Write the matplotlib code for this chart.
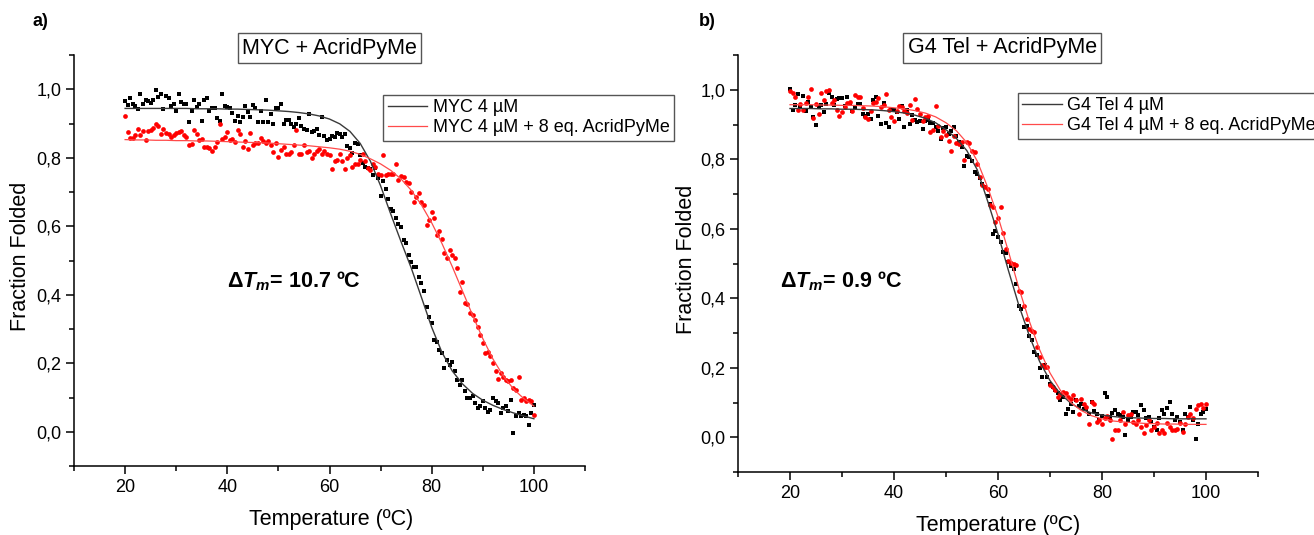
import numpy as np
import matplotlib.pyplot as plt
from matplotlib.ticker import FuncFormatter, MultipleLocator

plt.rcParams['font.family'] = ['Liberation Sans', 'DejaVu Sans']
plt.rcParams['mathtext.fontset'] = 'custom'
plt.rcParams['mathtext.rm'] = 'Liberation Sans'
plt.rcParams['mathtext.it'] = 'Liberation Sans:italic'
plt.rcParams['mathtext.bf'] = 'Liberation Sans:bold'
plt.rcParams['mathtext.bfit'] = 'Liberation Sans:italic:bold'

# temperature grid of the melting points (0.5 ºC steps) and of the fits
temp = np.arange(20, 100.25, 0.5)
fit_temp = np.arange(20, 101, 2)

# a) MYC
myc_free = [
    .965, .955, .975, .958, .951, .941, .985, .958, .970, .965,
    .961, .968, .998, .978, .985, .941, .980, .975, .951, .958,
    .937, .985, .962, .958, .958, .905, .937, .968, .947, .958,
    .908, .968, .975, .937, .944, .944, .915, .907, .985, .951,
    .948, .944, .931, .907, .922, .905, .920, .951, .934, .920,
    .953, .944, .905, .937, .903, .970, .903, .929, .900, .944,
    .944, .958, .900, .909, .909, .900, .890, .900, .917, .893,
    .885, .880, .927, .875, .879, .884, .866, .919, .864, .853,
    .856, .863, .861, .873, .868, .860, .870, .834, .829, .815,
    .844, .841, .807, .786, .773, .771, .766, .749, .771, .742,
    .688, .732, .710, .679, .650, .645, .625, .608, .598, .560,
    .550, .515, .496, .482, .482, .452, .433, .410, .365, .335,
    .317, .268, .263, .240, .230, .186, .210, .195, .205, .176,
    .152, .137, .152, .120, .098, .098, .103, .085, .069, .074,
    .089, .070, .059, .064, .098, .089, .084, .055, .069, .074,
    .060, .094, -.004, .045, .055, .045, .050, .045, .020, .055,
    .077]
myc_ligand = [
    .922, .874, .859, .859, .866, .884, .866, .877, .853, .877,
    .880, .887, .898, .893, .869, .885, .871, .869, .860, .866,
    .871, .875, .878, .866, .860, .836, .840, .880, .869, .851,
    .856, .830, .830, .829, .820, .832, .846, .898, .856, .860,
    .875, .851, .854, .846, .882, .869, .830, .849, .827, .872,
    .837, .843, .842, .857, .848, .843, .849, .837, .817, .843,
    .801, .824, .832, .812, .810, .817, .837, .882, .810, .810,
    .837, .817, .820, .800, .810, .820, .827, .810, .820, .810,
    .808, .766, .791, .793, .812, .790, .768, .800, .808, .773,
    .781, .783, .793, .812, .790, .771, .764, .781, .773, .754,
    .749, .808, .749, .754, .752, .754, .781, .735, .748, .744,
    .730, .725, .700, .671, .686, .696, .671, .662, .603, .618,
    .642, .623, .574, .585, .562, .521, .506, .530, .516, .506,
    .477, .409, .438, .375, .373, .346, .341, .326, .307, .282,
    .258, .229, .234, .220, .200, .176, .154, .171, .161, .150,
    .147, .152, .127, .122, .161, .093, .098, .089, .093, .089,
    .050]
myc_free_fit = [
    .944, .944, .944, .944, .944, .944, .944, .943, .943, .943,
    .942, .942, .941, .940, .939, .937, .935, .932, .928, .922,
    .913, .899, .877, .842, .790, .718, .635, .555, .478, .392,
    .305, .232, .178, .140, .112, .092, .077, .065, .055, .046,
    .038]
myc_ligand_fit = [
    .853, .852, .852, .851, .851, .850, .850, .849, .849, .848,
    .847, .846, .845, .844, .843, .841, .839, .837, .835, .832,
    .829, .825, .819, .810, .797, .782, .763, .738, .705, .662,
    .610, .550, .483, .412, .340, .272, .212, .163, .125, .097,
    .075]

# b) G4 Tel
tel_free = [
    1.002, .941, .955, .987, .949, .983, .940, .966, .951, .922,
    .899, .949, .957, .935, .959, .992, .980, .957, .973, .976,
    .976, .954, .978, .959, .938, .951, .959, .959, .930, .925,
    .930, .916, .970, .978, .925, .901, .961, .903, .892, .941,
    .941, .935, .916, .954, .892, .941, .901, .928, .913, .906,
    .911, .887, .911, .913, .903, .903, .894, .882, .858, .890,
    .892, .874, .882, .894, .868, .849, .834, .782, .810, .806,
    .794, .762, .758, .746, .729, .719, .695, .670, .585, .593,
    .576, .561, .532, .530, .504, .494, .484, .440, .379, .370,
    .317, .321, .290, .279, .245, .236, .200, .173, .207, .173,
    .154, .145, .135, .126, .106, .116, .068, .082, .097, .073,
    .106, .090, .097, .082, .080, .068, .101, .075, .068, .049,
    .060, .126, .116, .058, .070, .078, .068, .063, .058, .006,
    .050, .058, .073, .073, .065, .092, .078, .054, .058, .044,
    .030, .020, .055, .078, .068, .085, .101, .068, .049, .058,
    .044, .020, .068, .058, .087, .050, -.004, .039, .068, .073,
    .080]
tel_ligand = [
    .995, .992, .980, .941, .959, .941, .961, .978, 1.002, .919,
    .959, .930, .992, .970, .997, .999, .961, .970, .941, .925,
    .935, .949, .961, .966, .938, .986, .980, .978, .947, .922,
    .916, .940, .961, .966, .976, .949, .955, .989, .941, .922,
    .909, .940, .954, .949, .940, .932, .957, .913, .973, .944,
    .930, .909, .922, .925, .877, .884, .954, .897, .865, .882,
    .871, .853, .825, .868, .846, .844, .849, .798, .849, .846,
    .823, .820, .786, .748, .727, .719, .715, .667, .662, .619,
    .631, .662, .587, .542, .508, .501, .499, .497, .422, .417,
    .379, .340, .312, .307, .303, .260, .231, .207, .202, .202,
    .149, .145, .135, .116, .125, .130, .126, .116, .110, .121,
    .106, .068, .111, .097, .087, .039, .101, .097, .044, .049,
    .039, .054, .060, .049, -.004, .020, .022, .050, .073, .039,
    .063, .068, .045, .039, .049, .030, .011, .035, .049, .020,
    .030, .040, .011, .020, .011, .040, .030, .020, .020, .025,
    .040, .015, .039, .058, .068, .055, .082, .092, .095, .085,
    .097]
tel_free_fit = [
    .946, .946, .946, .945, .945, .944, .944, .943, .942, .940,
    .937, .933, .927, .918, .905, .885, .860, .825, .770, .680,
    .585, .480, .380, .293, .218, .163, .125, .098, .080, .070,
    .064, .060, .057, .056, .055, .054, .054, .053, .053, .053,
    .053]
tel_ligand_fit = [
    .957, .957, .957, .956, .956, .955, .955, .954, .953, .951,
    .948, .945, .940, .933, .922, .905, .882, .848, .795, .720,
    .635, .535, .430, .335, .252, .185, .135, .100, .077, .062,
    .053, .047, .044, .042, .040, .039, .038, .038, .037, .037,
    .037]


def comma(v, pos):
    return f'{v:.1f}'.replace('.', ',')


def draw_panel(ax, free, ligand, free_fit, ligand_fit, title, labels, dtm,
               leg_anchor, title_x, dtm_xy):
    ax.plot(temp, free, 's', ms=3.2, mew=0, color='black', zorder=2)
    ax.plot(temp, ligand, 'o', ms=3.4, mew=0, color='#ff0000', zorder=2)
    l1, = ax.plot(fit_temp, free_fit, '-', lw=1.0, color='#3a3a3a', zorder=3)
    l2, = ax.plot(fit_temp, ligand_fit, '-', lw=0.9, color='#ff4a4a', zorder=3)

    ax.set_xlim(10, 110)
    ax.set_ylim(-0.1, 1.1)
    ax.set_xticks([20, 40, 60, 80, 100])
    ax.set_yticks([0, 0.2, 0.4, 0.6, 0.8, 1.0])
    ax.xaxis.set_minor_locator(MultipleLocator(10))
    ax.yaxis.set_minor_locator(MultipleLocator(0.1))
    ax.yaxis.set_major_formatter(FuncFormatter(comma))
    for s in ['top', 'right']:
        ax.spines[s].set_visible(False)
    for s in ['left', 'bottom']:
        ax.spines[s].set_linewidth(1.1)
    ax.tick_params(which='major', length=6, width=1.1, labelsize=13, pad=3)
    ax.tick_params(which='minor', length=3.5, width=1.1)

    ax.set_xlabel('Temperature (ºC)', fontsize=15.5)
    ax.set_ylabel('Fraction Folded', fontsize=15.5)

    ax.text(title_x, 1.017, title, transform=ax.transAxes, ha='center',
            va='center', fontsize=15.5,
            bbox=dict(boxstyle='square,pad=0.2', fc='white', ec='#555555', lw=1))

    leg = ax.legend([l1, l2], labels, loc='upper left', bbox_to_anchor=leg_anchor,
                    fontsize=13, frameon=True, fancybox=False, framealpha=1,
                    edgecolor='#555555', handlelength=2.2, handletextpad=0.3,
                    borderpad=0.25, labelspacing=0.15, borderaxespad=0)
    leg.get_frame().set_linewidth(1)

    ax.text(dtm_xy[0], dtm_xy[1], r'Δ$\mathbfit{T}_\mathbfit{m}$= ' + dtm + ' ºC',
            fontsize=15.5, fontweight='bold', ha='left', va='center')


fig = plt.figure(figsize=(13.14, 5.35), dpi=100)
ax_a = fig.add_axes([74 / 1314, (535 - 466) / 535, 511 / 1314, 411 / 535])
ax_b = fig.add_axes([738 / 1314, (535 - 472) / 535, 520 / 1314, 417 / 535])

draw_panel(ax_a, myc_free, myc_ligand, myc_free_fit, myc_ligand_fit,
           'MYC + AcridPyMe',
           ['MYC 4 µM', 'MYC 4 µM + 8 eq. AcridPyMe'], '10.7',
           (0.605, 0.903), 0.5, (40.0, 0.44))
draw_panel(ax_b, tel_free, tel_ligand, tel_free_fit, tel_ligand_fit,
           'G4 Tel + AcridPyMe',
           ['G4 Tel 4 µM', 'G4 Tel 4 µM + 8 eq. AcridPyMe'], '0.9',
           (0.538, 0.909), 0.508, (18.0, 0.45))

ax_a.xaxis.set_label_coords(0.503, -0.105)
ax_a.yaxis.set_label_coords(-0.084, 0.51)
ax_b.xaxis.set_label_coords(0.5, -0.103)
ax_b.yaxis.set_label_coords(-0.079, 0.51)

fig.text(40 / 1314, 1 - 22 / 535, 'a)', fontsize=13, fontweight='bold',
         ha='center', va='center')
fig.text(707 / 1314, 1 - 22 / 535, 'b)', fontsize=13, fontweight='bold',
         ha='center', va='center')

fig.savefig('out.png', dpi=100)
